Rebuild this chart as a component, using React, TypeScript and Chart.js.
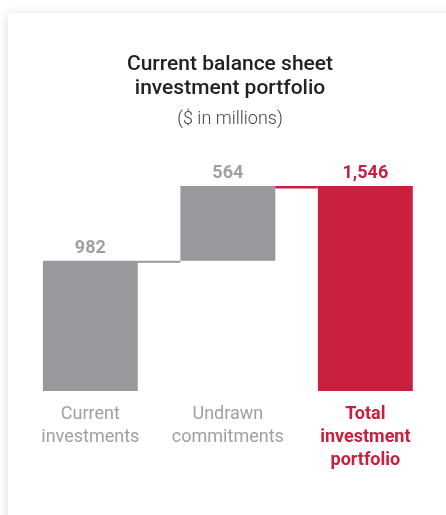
import React, { useEffect, useRef } from "react";
import { Chart, registerables } from "chart.js";

Chart.register(...registerables);

const titleLines = ["Current balance sheet", "investment portfolio"];
const subtitleText = "($ in millions)";
const categories = [
  ["Current", "investments"],
  ["Undrawn", "commitments"],
  ["Total", "investment", "portfolio"],
];
const values = [982, 564, 1546];
const valueLabels = ["982", "564", "1,546"];
const isTotal = [false, false, true];

const GRAY = "#98999d";
const GRAY_TEXT = "#a0a0a4";
const RED = "#c8203e";
const FONT = "Roboto, 'Noto Sans', sans-serif";

export default function App() {
  const ref = useRef<HTMLCanvasElement | null>(null);

  useEffect(() => {
    if (!ref.current) return;
    // waterfall ranges: each step starts where the running total ends
    let running = 0;
    const ranges = values.map((v, i) => {
      if (isTotal[i]) return [0, v];
      const r = [running, running + v];
      running += v;
      return r;
    });

    const headerPlugin = {
      id: "header",
      afterDraw(chart: any) {
        const ctx = chart.ctx;
        ctx.save();
        ctx.textAlign = "center";
        ctx.textBaseline = "alphabetic";
        ctx.fillStyle = "#222222";
        ctx.font = `500 21px ${FONT}`;
        const cx = 222;
        ctx.fillText(titleLines[0], cx, 56.5);
        ctx.fillText(titleLines[1], cx, 80.5);
        ctx.fillStyle = "#444444";
        ctx.font = `300 18px ${FONT}`;
        ctx.fillText(subtitleText, cx, 110.5);
        ctx.restore();
      },
    };

    const waterfallPlugin = {
      id: "waterfall",
      afterDatasetsDraw(chart: any) {
        const ctx = chart.ctx;
        const meta = chart.getDatasetMeta(0);
        const y = chart.scales.y;
        ctx.save();
        // connectors
        for (let i = 0; i < meta.data.length - 1; i++) {
          const a = meta.data[i];
          const b = meta.data[i + 1];
          const level = ranges[i][1];
          const yp = y.getPixelForValue(level);
          const x1 = a.x + a.width / 2;
          const x2 = b.x - b.width / 2;
          ctx.fillStyle = isTotal[i + 1] ? RED : GRAY;
          ctx.fillRect(x1, yp, x2 - x1, isTotal[i + 1] ? 2.5 : 2);
        }
        // value labels
        ctx.textAlign = "center";
        ctx.textBaseline = "alphabetic";
        ctx.font = `bold 18px ${FONT}`;
        meta.data.forEach((el: any, i: number) => {
          const top = y.getPixelForValue(ranges[i][1]);
          ctx.fillStyle = isTotal[i] ? RED : GRAY_TEXT;
          ctx.fillText(valueLabels[i], el.x, top - 8);
        });
        ctx.restore();
      },
    };

    const chart = new Chart(ref.current, {
      type: "bar",
      data: {
        labels: categories as any,
        datasets: [
          {
            data: ranges as any,
            backgroundColor: values.map((_, i) => (isTotal[i] ? RED : GRAY)),
            borderWidth: 0,
            categoryPercentage: 1,
            barPercentage: 0.69,
          },
        ],
      },
      options: {
        responsive: false,
        animation: false,
        layout: { padding: { top: 173, left: 13.6, right: 11.9, bottom: 31 } },
        plugins: {
          legend: { display: false },
          tooltip: { enabled: false },
          title: { display: false },
        },
        scales: {
          x: {
            grid: { display: false, drawTicks: false, tickLength: 0 },
            border: { display: false },
            ticks: {
              autoSkip: false,
              maxRotation: 0,
              padding: 12,
              color: (c: any) => (isTotal[c.index] ? RED : GRAY_TEXT),
              font: (c: any) => ({
                family: FONT,
                size: 18,
                weight: isTotal[c.index] ? "bold" : "normal",
                lineHeight: "23px",
              }),
            },
          },
          y: {
            display: false,
            min: 0,
            max: values[2],
          },
        },
      },
      plugins: [headerPlugin, waterfallPlugin],
    });
    return () => chart.destroy();
  }, []);

  return (
    <div
      style={{
        position: "fixed",
        inset: 0,
        overflow: "hidden",
        background: "#ffffff",
      }}
    >
      <div
        style={{
          position: "absolute",
          left: 8,
          top: 13,
          width: 460,
          height: 540,
          background: "#ffffff",
          boxShadow: "-1px 1px 10px rgba(0,0,0,0.13)",
        }}
      >
        <canvas ref={ref} width={438} height={502} style={{ display: "block" }} />
      </div>
    </div>
  );
}
